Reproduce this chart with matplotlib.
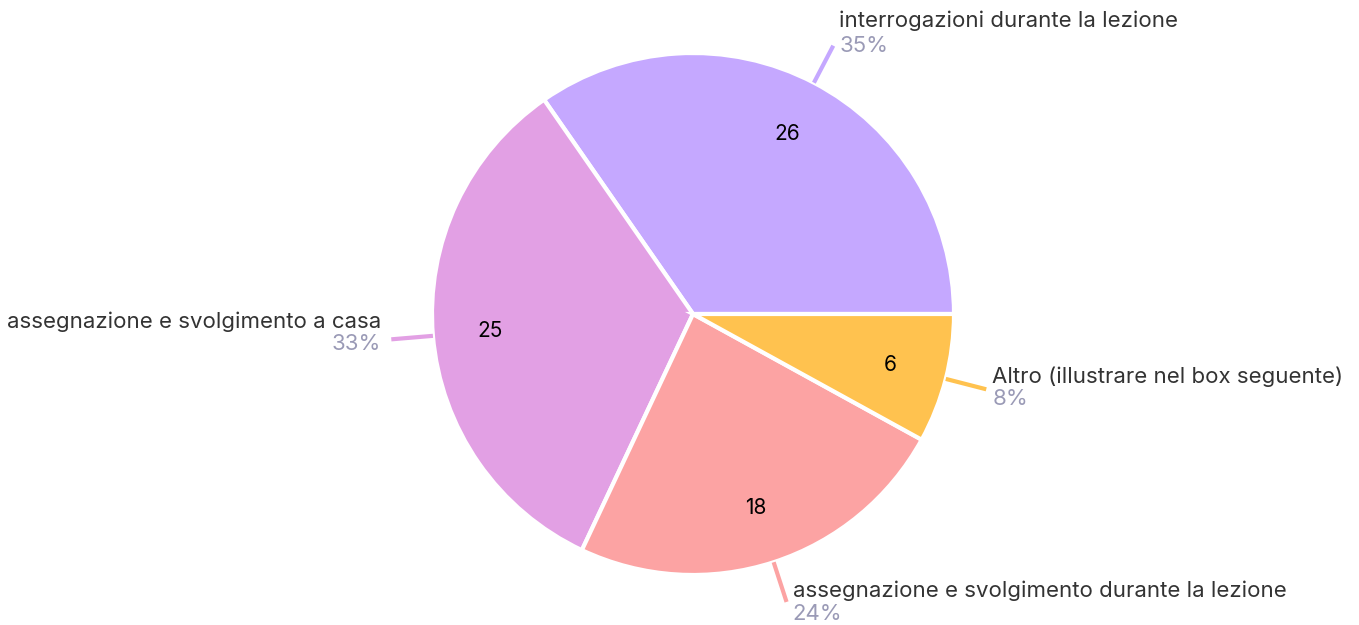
import matplotlib
matplotlib.use("Agg")
import matplotlib.pyplot as plt
import numpy as np

labels = ["interrogazioni durante la lezione",
          "assegnazione e svolgimento a casa",
          "assegnazione e svolgimento durante la lezione",
          "Altro (illustrare nel box seguente)"]
counts = [26, 25, 18, 6]
colors = ["#C5A8FF", "#E2A0E4", "#FCA3A3", "#FFC24F"]

plt.rcParams['font.family'] = ['Inter', 'DejaVu Sans']

W, H = 1359, 625
fig = plt.figure(figsize=(W / 100, H / 100), dpi=100)
ax = fig.add_axes([0, 0, 1, 1])

cx, cy, R = 693, H - 314, 261
total = sum(counts)

wedges, _, autotexts = ax.pie(
    counts, colors=colors, startangle=0, counterclock=True,
    center=(cx, cy), radius=R, autopct=lambda p: "%d" % round(p * total / 100),
    pctdistance=0.78, wedgeprops=dict(edgecolor="white", linewidth=3),
    textprops=dict(fontsize=15, color="black"))

# label block offsets (name, percent) in pixels relative to the leader end
name_dy = [25, 18, 11, 13]
pct_dy = [0, -5, -12, -10]

for w, lab, n, i in zip(wedges, labels, counts, range(len(counts))):
    ang = np.deg2rad((w.theta1 + w.theta2) / 2)
    x0, y0 = cx + R * 1.0 * np.cos(ang), cy + R * 1.0 * np.sin(ang)
    x1, y1 = cx + R * 1.16 * np.cos(ang), cy + R * 1.16 * np.sin(ang)
    ax.plot([x0, x1], [y0, y1], color=w.get_facecolor(), lw=3,
            solid_capstyle="butt")
    right = np.cos(ang) > 0
    tx = x1 + (6 if right else -10)
    ha = "left" if right else "right"
    ax.text(tx, y1 + name_dy[i], lab, ha=ha, va="center", fontsize=16,
            color="#333333")
    ax.text(tx, y1 + pct_dy[i], "%d%%" % round(100 * n / total), ha=ha,
            va="center", fontsize=16, color="#9A9AB6")

ax.set_xlim(0, W)
ax.set_ylim(0, H)
ax.set_aspect("equal")
ax.axis("off")

fig.savefig("out.png", dpi=100)
